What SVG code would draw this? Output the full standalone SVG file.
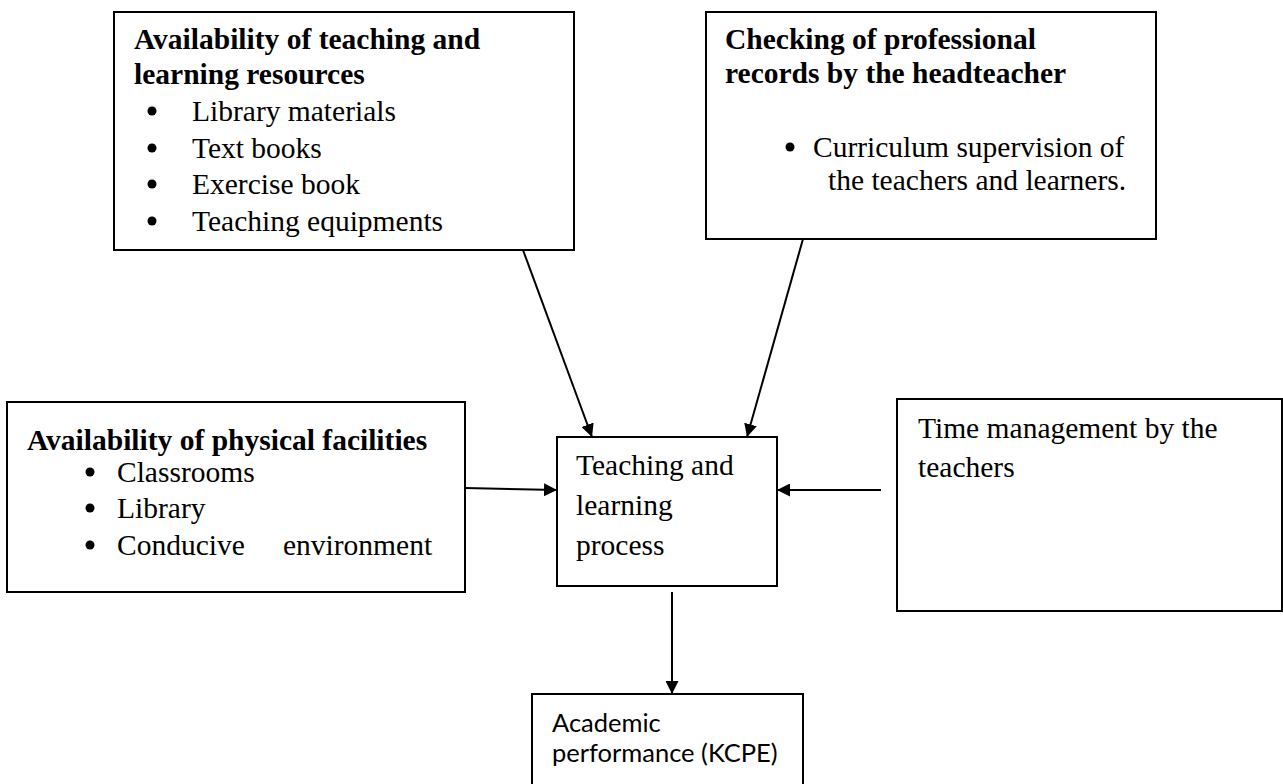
<svg xmlns="http://www.w3.org/2000/svg" width="1283" height="784" viewBox="0 0 1283 784">
<style>
.box{fill:#fff;stroke:#000;stroke-width:2}
.t{font-family:"Liberation Serif","Times New Roman",serif;font-size:29.5px;fill:#000}
.b{font-weight:bold}
.s{font-family:Lato,"Open Sans",sans-serif;font-size:25.5px;fill:#000}
.conn line{stroke:#000;stroke-width:2;fill:none}
.dot{fill:#000}
</style>
<defs>
<marker id="ah" markerUnits="userSpaceOnUse" markerWidth="14" markerHeight="13" refX="13" refY="6.5" orient="auto">
<path d="M0,0 L13,6.5 L0,13 z" fill="#000"/>
</marker>
</defs>
<rect width="1283" height="784" fill="#fff"/>
<g id="resources">
<rect class="box" x="114" y="12" width="460" height="238"/>
<text class="t b" x="134" y="49">Availability of teaching and</text>
<text class="t b" x="134" y="84">learning resources</text>
<circle class="dot" cx="152" cy="111" r="4.5"/>
<text class="t" x="192" y="121">Library materials</text>
<circle class="dot" cx="152" cy="148" r="4.5"/>
<text class="t" x="192" y="158">Text books</text>
<circle class="dot" cx="152" cy="184" r="4.5"/>
<text class="t" x="192" y="194">Exercise book</text>
<circle class="dot" cx="152" cy="221" r="4.5"/>
<text class="t" x="192" y="231">Teaching equipments</text>
</g>
<g id="records">
<rect class="box" x="706" y="12" width="450" height="227"/>
<text class="t b" x="725" y="49">Checking of professional</text>
<text class="t b" x="725" y="83">records by the headteacher</text>
<circle class="dot" cx="790" cy="147" r="4.5"/>
<text class="t" x="813" y="157">Curriculum supervision of</text>
<text class="t" x="828" y="190">the teachers and learners.</text>
</g>
<g id="facilities">
<rect class="box" x="7" y="402" width="458" height="190"/>
<text class="t b" x="27" y="450">Availability of physical facilities</text>
<circle class="dot" cx="90" cy="472" r="4.5"/>
<text class="t" x="117" y="482">Classrooms</text>
<circle class="dot" cx="90" cy="508" r="4.5"/>
<text class="t" x="117" y="518">Library</text>
<circle class="dot" cx="90" cy="545" r="4.5"/>
<text class="t" x="117" y="555">Conducive</text>
<text class="t" x="283" y="555">environment</text>
</g>
<g id="process">
<rect class="box" x="557" y="437" width="220" height="149"/>
<text class="t" x="576" y="475">Teaching and</text>
<text class="t" x="576" y="515">learning</text>
<text class="t" x="576" y="555">process</text>
</g>
<g id="time">
<rect class="box" x="897" y="399" width="385" height="212"/>
<text class="t" x="918" y="438">Time management by the</text>
<text class="t" x="918" y="477">teachers</text>
</g>
<g id="performance">
<rect class="box" x="532" y="694" width="271" height="100"/>
<text class="s" x="552" y="732">Academic</text>
<text class="s" x="552" y="762">performance (KCPE)</text>
</g>
<g class="conn" id="connectors">
<line x1="523" y1="250" x2="592" y2="437" marker-end="url(#ah)"/>
<line x1="803" y1="239" x2="747" y2="437" marker-end="url(#ah)"/>
<line x1="465" y1="488" x2="557" y2="490" marker-end="url(#ah)"/>
<line x1="881" y1="490" x2="777" y2="490" marker-end="url(#ah)"/>
<line x1="672" y1="592" x2="672" y2="694" marker-end="url(#ah)"/>
</g>
</svg>
